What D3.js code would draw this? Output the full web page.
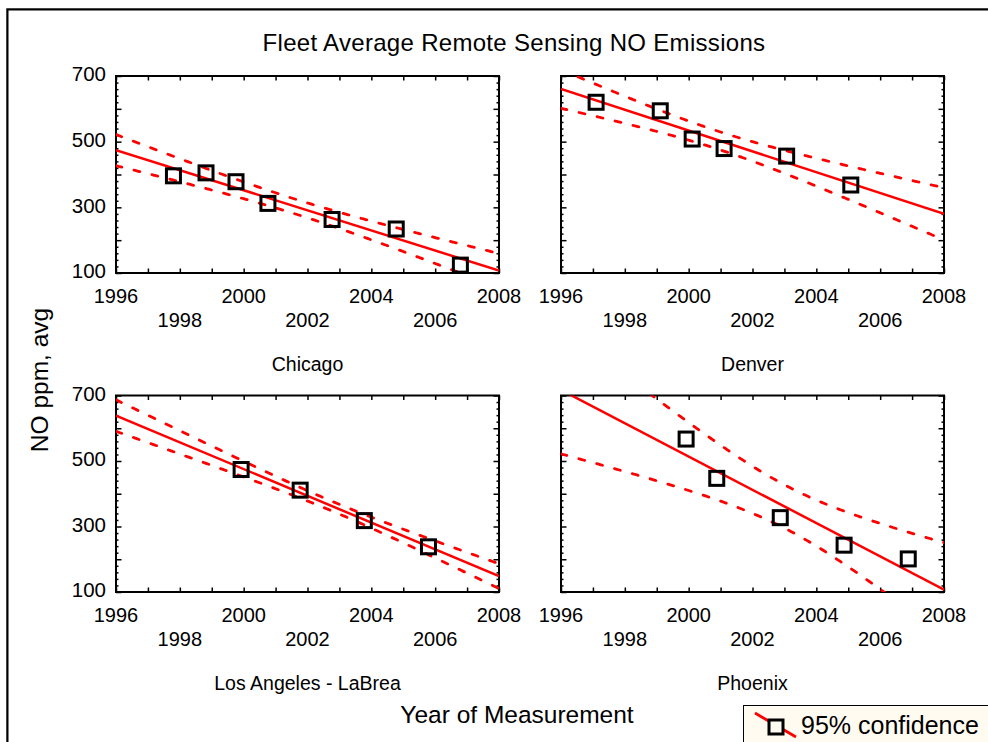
<!DOCTYPE html>
<html>
<head>
<meta charset="utf-8">
<script src="https://cdn.jsdelivr.net/npm/d3@7"></script>
<style>
  body { margin: 0; background: #fff; }
  svg { display: block; font-family: "Liberation Sans", Arial, sans-serif; }
</style>
</head>
<body>
<svg id="chart" width="988" height="742"></svg>
<script>
// ---- data -------------------------------------------------------------
const cities = ["Chicago", "Denver", "Los Angeles - LaBrea", "Phoenix"];

const chicagoYears = [1997.8, 1998.82, 1999.76, 2000.76, 2002.77, 2004.78, 2006.79];
const chicagoNO    = [396, 405, 378, 312, 263, 234, 124];

const denverYears  = [1997.1, 1999.11, 2000.11, 2001.11, 2003.07, 2005.08];
const denverNO     = [620, 594, 508, 479, 456, 368];

const laYears      = [1999.92, 2001.77, 2003.78, 2005.79];
const laNO         = [474, 411, 318, 238];

const phoenixYears = [1999.92, 2000.88, 2002.87, 2004.87, 2006.88];
const phoenixNO    = [567, 447, 327, 243, 201];

// two-sided 95% Student t values for n-2 degrees of freedom
const tCritical = [2.571, 2.776, 4.303, 3.182];

const xTopRowLabels    = [1996, 2000, 2004, 2008];
const xBottomRowLabels = [1998, 2002, 2006];
const yTickLabels      = [100, 300, 500, 700];

const yearDomain = [1996, 2008];
const noDomain   = [100, 700];

const seriesYears = [chicagoYears, denverYears, laYears, phoenixYears];
const seriesNO    = [chicagoNO, denverNO, laNO, phoenixNO];

// ---- layout -----------------------------------------------------------
const svg = d3.select("#chart");
const RED = "#ff0000";
const cols = [[116, 499], [561, 944]];
const rows = [[76, 273], [395.5, 592]];

// outer frame (left and top edges)
svg.append("path")
  .attr("d", "M6.5,742 V8.5 H988")
  .attr("fill", "none").attr("stroke", "#888").attr("stroke-width", 1);
svg.append("path")
  .attr("d", "M7.5,742 V9.5 H988")
  .attr("fill", "none").attr("stroke", "#000").attr("stroke-width", 2);

svg.append("text")
  .attr("x", 514).attr("y", 51)
  .attr("text-anchor", "middle")
  .attr("font-size", 24)
  .attr("letter-spacing", 0.3)
  .text("Fleet Average Remote Sensing NO Emissions");

svg.append("text")
  .attr("transform", "translate(48,380) rotate(-90)")
  .attr("text-anchor", "middle")
  .attr("font-size", 24.5)
  .text("NO ppm, avg");

svg.append("text")
  .attr("x", 517).attr("y", 723)
  .attr("text-anchor", "middle")
  .attr("font-size", 24.5)
  .text("Year of Measurement");

// least-squares fit with a 95% confidence band for the mean
function fit(xs, ys, t) {
  const n = xs.length;
  const mx = d3.mean(xs), my = d3.mean(ys);
  const sxx = d3.sum(xs, x => (x - mx) ** 2);
  const sxy = d3.sum(xs.map((x, i) => (x - mx) * (ys[i] - my)));
  const b = sxy / sxx, a = my - b * mx;
  const sse = d3.sum(xs.map((x, i) => (ys[i] - (a + b * x)) ** 2));
  const s = Math.sqrt(sse / (n - 2));
  const pred = x => a + b * x;
  const half = x => t * s * Math.sqrt(1 / n + (x - mx) ** 2 / sxx);
  return { pred, half };
}

cities.forEach((city, k) => {
  const [x0, x1] = cols[k % 2];
  const [y0, y1] = rows[Math.floor(k / 2)];
  const x = d3.scaleLinear().domain(yearDomain).range([x0, x1]);
  const y = d3.scaleLinear().domain(noDomain).range([y1, y0]);
  const g = svg.append("g");

  const clipId = "clip" + k;
  g.append("clipPath").attr("id", clipId)
    .append("rect").attr("x", x0).attr("y", y0)
    .attr("width", x1 - x0).attr("height", y1 - y0);

  // ticks pointing into the plot on all four sides
  const majorYears = d3.range(yearDomain[0], yearDomain[1] + 1);
  g.append("g").attr("transform", `translate(0,${y1})`)
    .call(d3.axisBottom(x).tickValues(majorYears).tickSize(-4.5).tickFormat(""));
  g.append("g").attr("transform", `translate(0,${y0})`)
    .call(d3.axisTop(x).tickValues(majorYears).tickSize(-4.5).tickFormat(""));
  const majorNO = d3.range(noDomain[0], noDomain[1] + 1, 100);
  const minorNO = d3.range(noDomain[0], noDomain[1] + 1, 20).filter(v => v % 100 !== 0);
  g.append("g").attr("transform", `translate(${x0},0)`)
    .call(d3.axisLeft(y).tickValues(majorNO).tickSize(-5.5).tickFormat(""));
  g.append("g").attr("transform", `translate(${x0},0)`)
    .call(d3.axisLeft(y).tickValues(minorNO).tickSize(-2.5).tickFormat(""));
  g.append("g").attr("transform", `translate(${x1},0)`)
    .call(d3.axisRight(y).tickValues(majorNO).tickSize(-5.5).tickFormat(""));
  g.append("g").attr("transform", `translate(${x1},0)`)
    .call(d3.axisRight(y).tickValues(minorNO).tickSize(-2.5).tickFormat(""));
  g.selectAll(".domain").remove();
  g.selectAll(".tick line").attr("stroke", "#000").attr("stroke-width", 1.5);

  g.append("rect")
    .attr("x", x0).attr("y", y0)
    .attr("width", x1 - x0).attr("height", y1 - y0)
    .attr("fill", "none").attr("stroke", "#000").attr("stroke-width", 2);

  // year labels in two staggered rows
  g.selectAll(".xl1").data(xTopRowLabels).join("text")
    .attr("x", d => x(d)).attr("y", y1 + 30)
    .attr("text-anchor", "middle").attr("font-size", 20)
    .text(d => d);
  g.selectAll(".xl2").data(xBottomRowLabels).join("text")
    .attr("x", d => x(d)).attr("y", y1 + 54)
    .attr("text-anchor", "middle").attr("font-size", 20)
    .text(d => d);

  if (k % 2 === 0) {
    g.selectAll(".yl").data(yTickLabels).join("text")
      .attr("x", x0 - 10).attr("y", d => y(d) - 2)
      .attr("dy", "0.35em")
      .attr("text-anchor", "end").attr("font-size", 20.5)
      .text(d => d);
  }

  g.append("text")
    .attr("x", (x0 + x1) / 2).attr("y", y1 + 98)
    .attr("text-anchor", "middle").attr("font-size", 19.5)
    .text(city);

  // regression line and confidence band
  const xs = seriesYears[k], ys = seriesNO[k];
  const f = fit(xs, ys, tCritical[k]);
  const grid = d3.range(0, 241).map(i => yearDomain[0] + (yearDomain[1] - yearDomain[0]) * i / 240);
  const line = d3.line().x(d => x(d[0])).y(d => y(d[1]));
  const plot = g.append("g").attr("clip-path", `url(#${clipId})`);

  plot.append("path")
    .attr("d", line(yearDomain.map(v => [v, f.pred(v)])))
    .attr("fill", "none").attr("stroke", RED).attr("stroke-width", 2.5);
  [1, -1].forEach(sign => {
    plot.append("path")
      .attr("d", line(grid.map(v => [v, f.pred(v) + sign * f.half(v)])))
      .attr("fill", "none").attr("stroke", RED).attr("stroke-width", 2.8)
      .attr("stroke-linecap", "round")
      .attr("stroke-dasharray", "6,12.5");
  });

  // observed averages
  g.selectAll(".pt").data(xs.map((v, i) => [v, ys[i]])).join("rect")
    .attr("x", d => x(d[0]) - 7).attr("y", d => y(d[1]) - 7)
    .attr("width", 14).attr("height", 14)
    .attr("fill", "none").attr("stroke", "#000").attr("stroke-width", 3);
});

// legend
const lg = svg.append("g");
lg.append("rect")
  .attr("x", 743.5).attr("y", 705.5).attr("width", 260).attr("height", 60)
  .attr("fill", "#fffbf0").attr("stroke", "#000").attr("stroke-width", 1);
lg.append("line")
  .attr("x1", 755).attr("y1", 713).attr("x2", 796).attr("y2", 737)
  .attr("stroke", RED).attr("stroke-width", 2.8);
lg.append("rect")
  .attr("x", 769).attr("y", 720).attr("width", 14).attr("height", 14)
  .attr("fill", "#fffbf0").attr("stroke", "#000").attr("stroke-width", 3);
lg.append("text")
  .attr("x", 801).attr("y", 734).attr("font-size", 25)
  .text("95% confidence");
</script>
</body>
</html>
